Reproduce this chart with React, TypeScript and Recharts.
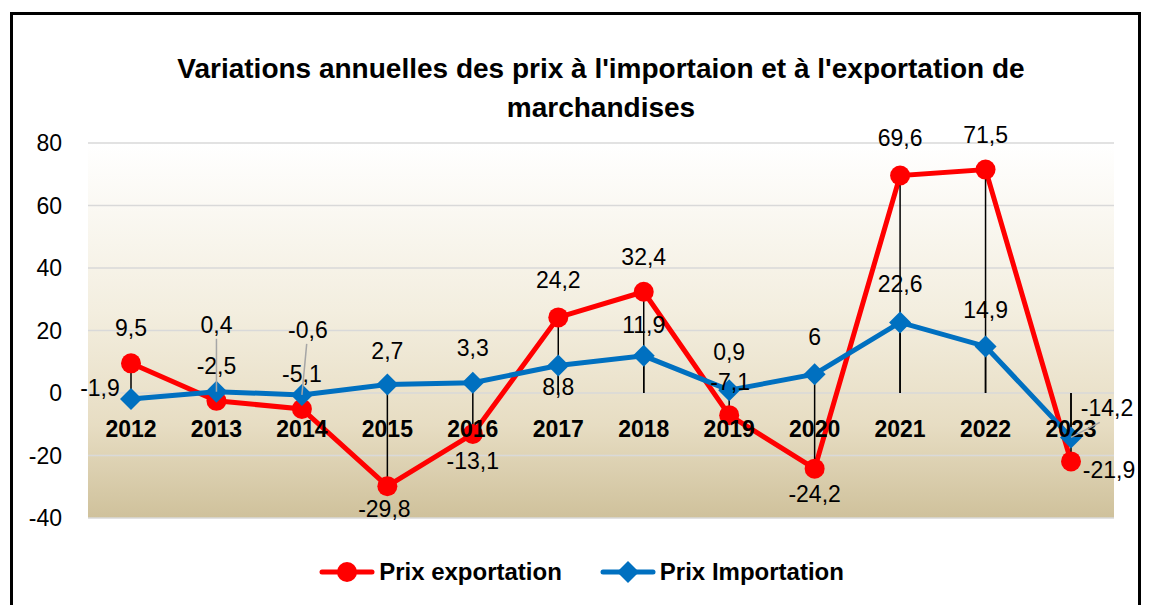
import { ComposedChart, Line, XAxis, YAxis, CartesianGrid, ReferenceLine, LabelList } from 'recharts';

const years = ['2012', '2013', '2014', '2015', '2016', '2017', '2018', '2019', '2020', '2021', '2022', '2023'];
const prixExportation = [9.5, -2.5, -5.1, -29.8, -13.1, 24.2, 32.4, -7.1, -24.2, 69.6, 71.5, -21.9];
const prixImportation = [-1.9, 0.4, -0.6, 2.7, 3.3, 8.8, 11.9, 0.9, 6, 22.6, 14.9, -14.2];
const yTicks = [-40, -20, 0, 20, 40, 60, 80];

const data = years.map((year, i) => ({ year, exp: prixExportation[i], imp: prixImportation[i] }));

// label placement tweaks (dx, dy from the point, leader line or not)
const expShift: [number, number, boolean][] = [
  [0, -35, false], [0, -35, false], [0, -35, false], [-3, 23, false], [0, 27, false], [0, -37, false],
  [0, -35, false], [1, -33, false], [0, 25, false], [0, -38, false], [0, -35, false], [38, 9, false],
];
const impShift: [number, number, boolean][] = [
  [-31, -11, false], [0, -67, true], [6, -65, true], [0, -34, false], [0, -35, false], [0, 21, false],
  [0, -31, false], [0, -38, false], [0, -37, false], [0, -38, false], [0, -36, false], [36, -29, true],
];

const FONT = '"Liberation Sans", Arial, sans-serif';
const RED = '#ff0000';
const BLUE = '#0070c0';

const fmt = (v: number) => String(v).replace('.', ',');

const makeLabel = (shift: [number, number, boolean][]) => (props: any) => {
  const { x, y, value, index } = props;
  const [dx, dy, leader] = shift[index] || [0, -35, false];
  return (
    <g>
      {leader && (
        <line x1={x + dx * 0.8} y1={y + dy + 14} x2={x} y2={y} stroke="#a6a6a6" strokeWidth={1.5} />
      )}
      <text x={x + dx} y={y + dy} textAnchor="middle" dominantBaseline="central" fontSize={23} fontFamily={FONT} fill="#000">
        {fmt(value)}
      </text>
    </g>
  );
};

const Diamond = (props: any) => {
  const { cx, cy } = props;
  if (cx == null || cy == null) return null;
  const s = 11;
  return <polygon points={`${cx},${cy - s} ${cx + s},${cy} ${cx},${cy + s} ${cx - s},${cy}`} fill={BLUE} />;
};

const catTick = (props: any) => {
  const { x, y, payload } = props;
  return (
    <text x={x} y={y - 97} textAnchor="middle" dominantBaseline="central" fontSize={23} fontWeight="bold" fontFamily={FONT} fill="#000">
      {payload.value}
    </text>
  );
};

export default function App() {
  return (
    <div
      style={{
        position: 'relative',
        marginLeft: 2,
        marginTop: 4,
        width: 1131,
        height: 600,
        border: '3px solid #000',
        boxSizing: 'border-box',
        background: '#fff',
        fontFamily: FONT,
      }}
    >
      <div
        style={{
          position: 'absolute',
          left: 45,
          width: 1086,
          top: 34,
          textAlign: 'center',
          fontWeight: 'bold',
          fontSize: 28,
          lineHeight: '39px',
          color: '#000',
        }}
      >
        Variations annuelles des prix à l'importaion et à l'exportation de
        <br />
        marchandises
      </div>
      <ComposedChart width={1125} height={590} data={data} margin={{ top: 128, right: 24, bottom: 77, left: 0 }}>
        <defs>
          <linearGradient id="bg" x1="0" y1="0" x2="0" y2="1">
            <stop offset="0%" stopColor="#ffffff" />
            <stop offset="45%" stopColor="#f3eedf" />
            <stop offset="75%" stopColor="#e7ddc3" />
            <stop offset="100%" stopColor="#cfc19b" />
          </linearGradient>
        </defs>
        <CartesianGrid vertical={false} stroke="#d9d9d9" strokeWidth={1.5} fill="url(#bg)" fillOpacity={1} />
        <XAxis dataKey="year" height={10} axisLine={false} tickLine={false} tick={catTick} interval={0} padding={{ left: 43, right: 43 }} />
        <YAxis
          width={75}
          domain={[-40, 80]}
          ticks={yTicks}
          axisLine={false}
          tickLine={false}
          tickMargin={20}
          tick={{ fontSize: 23, fontFamily: FONT, fill: '#000' }}
        />
        <Line dataKey="exp" name="Prix exportation" stroke={RED} strokeWidth={5} isAnimationActive={false}
          dot={{ r: 10, fill: RED, stroke: RED, strokeWidth: 0 }} activeDot={false}>
          <LabelList dataKey="exp" content={makeLabel(expShift)} />
        </Line>
        <Line dataKey="imp" name="Prix Importation" stroke={BLUE} strokeWidth={5} isAnimationActive={false}
          dot={<Diamond />} activeDot={false}>
          <LabelList dataKey="imp" content={makeLabel(impShift)} />
        </Line>
        {data.map((d) => (
          <ReferenceLine key={`e${d.year}`} segment={[{ x: d.year, y: 0 }, { x: d.year, y: d.exp }]} stroke="#000" strokeWidth={1.5} />
        ))}
        {data.map((d) => (
          <ReferenceLine key={`i${d.year}`} segment={[{ x: d.year, y: 0 }, { x: d.year, y: d.imp }]} stroke="#000" strokeWidth={1.5} />
        ))}
      </ComposedChart>
      <div
        style={{
          position: 'absolute',
          top: 543,
          left: 0,
          width: 1125,
          display: 'flex',
          justifyContent: 'center',
          gap: 38,
          fontWeight: 'bold',
          fontSize: 24,
          paddingLeft: 12,
          boxSizing: 'border-box',
        }}
      >
        <div style={{ display: 'flex', alignItems: 'center', gap: 4 }}>
          <svg width={56} height={24}>
            <line x1={3} y1={12} x2={53} y2={12} stroke={RED} strokeWidth={5} strokeLinecap="round" />
            <circle cx={28} cy={12} r={10} fill={RED} />
          </svg>
          <span>Prix exportation</span>
        </div>
        <div style={{ display: 'flex', alignItems: 'center', gap: 4 }}>
          <svg width={56} height={24}>
            <line x1={3} y1={12} x2={53} y2={12} stroke={BLUE} strokeWidth={5} strokeLinecap="round" />
            <polygon points="28,1 39,12 28,23 17,12" fill={BLUE} />
          </svg>
          <span>Prix Importation</span>
        </div>
      </div>
    </div>
  );
}
